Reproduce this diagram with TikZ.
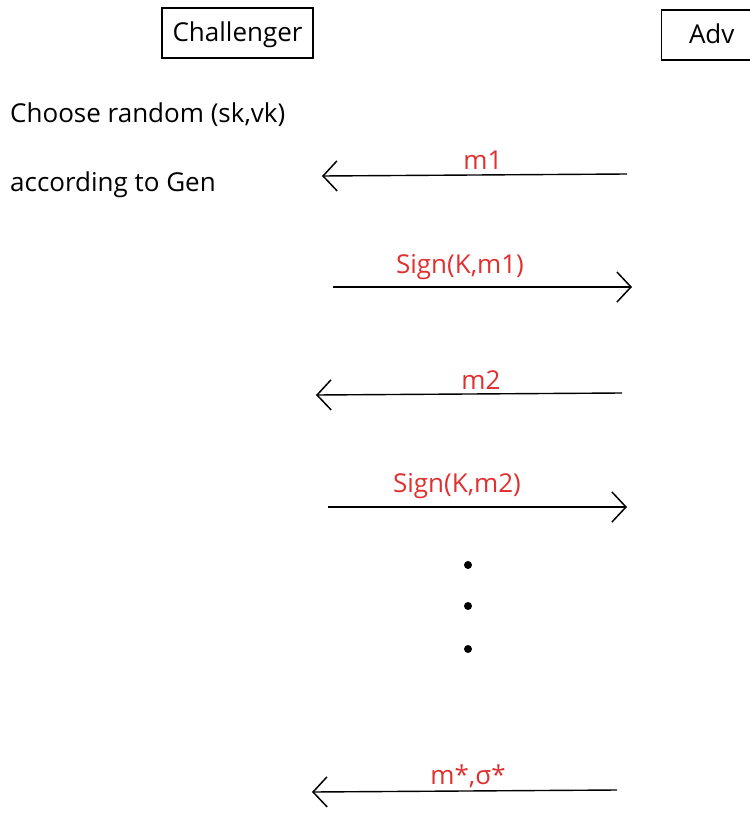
\documentclass[tikz,border=0pt]{standalone}
\usepackage{fontspec}
\setmainfont{Open Sans}
\usetikzlibrary{arrows.meta}
\definecolor{msgred}{HTML}{E03131}
\tikzset{
  bigtext/.style={font=\fontsize{26}{30}\selectfont},
  actor/.style={draw=black, line width=1.4pt, minimum height=50pt, inner sep=0pt, bigtext, text depth=3pt},
  note/.style={anchor=west, inner sep=0pt, bigtext},
  msg/.style={draw=black, line width=1.4pt, -{Straight Barb[length=14pt, width=30pt, line width=1.5pt]}},
  msglabel/.style={text=msgred, inner sep=0pt, bigtext},
  dot/.style={circle, fill=black, inner sep=0pt, minimum size=8pt}
}
\begin{document}
\begin{tikzpicture}[x=1pt, y=-1pt]
  \useasboundingbox (0,0) rectangle (749,813);
  % participants
  \node[actor, minimum width=151pt] (chal) at (237.5,33) {Challenger};
  \node[actor, minimum width=100pt, anchor=west] (adv) at (661,35) {Adv};
  % setup note
  \node[note] (choose) at (10,115) {Choose random (sk,vk)};
  \node[note] (gen) at (10,185) {according to Gen};
  % message end points
  \coordinate (a1) at (627,174); \coordinate (c1) at (322,176);
  \coordinate (c2) at (333,287); \coordinate (a2) at (632,287);
  \coordinate (a3) at (622,393); \coordinate (c3) at (316,395);
  \coordinate (c4) at (328,507); \coordinate (a4) at (627,507);
  \coordinate (a5) at (617,790); \coordinate (c5) at (312,792);
  % messages
  \draw[msg] (a1) -- (c1);
  \node[msglabel] (l1) at (483,160) {m1};
  \draw[msg] (c2) -- (a2);
  \node[msglabel] (l2) at (460,267) {Sign(K,m1)};
  \draw[msg] (a3) -- (c3);
  \node[msglabel] (l3) at (481,380) {m2};
  \draw[msg] (c4) -- (a4);
  \node[msglabel] (l4) at (457,486) {Sign(K,m2)};
  % ellipsis
  \node[dot] (d1) at (468,565) {};
  \node[dot] (d2) at (468,606) {};
  \node[dot] (d3) at (468,649) {};
  % forgery
  \draw[msg] (a5) -- (c5);
  \node[msglabel] (l5) at (468,776) {m*,σ*};
\end{tikzpicture}
\end{document}
